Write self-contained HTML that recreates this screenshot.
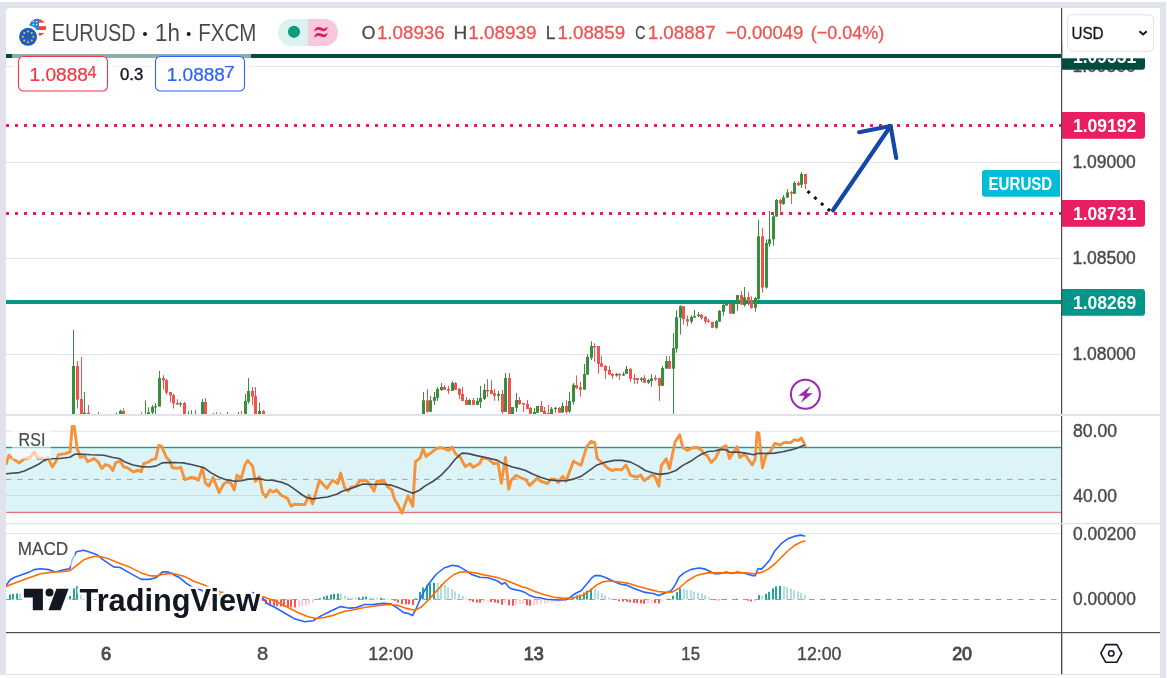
<!DOCTYPE html>
<html><head><meta charset="utf-8"><title>EURUSD chart</title>
<style>
html,body{margin:0;padding:0;background:#fff;}
body{width:1167px;height:678px;overflow:hidden;font-family:"Liberation Sans",sans-serif;}
svg{display:block;font-family:"Liberation Sans",sans-serif;}
</style></head><body>
<svg width="1167" height="678" viewBox="0 0 1167 678">
<defs>
<clipPath id="mainclip"><rect x="6" y="8" width="1055" height="406"/></clipPath>
<clipPath id="rsiclip"><rect x="6" y="417" width="1055" height="106"/></clipPath>
<clipPath id="macdclip"><rect x="6" y="524" width="1055" height="108"/></clipPath>
<filter id="gs" filterUnits="userSpaceOnUse" x="0" y="0" width="1167" height="678" color-interpolation-filters="sRGB"><feOffset dx="0" dy="0"/></filter>
<clipPath id="usclip"><circle cx="37.5" cy="27.5" r="8.65"/></clipPath>
</defs>
<g filter="url(#gs)">

<rect x="0" y="0" width="1167" height="678" fill="#fdfdfd"/>
<rect x="0" y="2" width="1166" height="673" fill="#e0e3eb"/>
<path d="M10,8 H1156 a4,4 0 0 1 4,4 V674 H6 V12 a4,4 0 0 1 4,-4 Z" fill="#ffffff"/>
<rect x="0" y="675" width="1160" height="3" fill="#fdfdfd"/>
<rect x="6" y="674" width="1154" height="1" fill="#e0e3eb"/>
<rect x="6" y="66" width="1055" height="1" fill="#e4e4e4"/>
<rect x="6" y="162" width="1055" height="1" fill="#e4e4e4"/>
<rect x="6" y="258" width="1055" height="1" fill="#e4e4e4"/>
<rect x="6" y="354" width="1055" height="1" fill="#e4e4e4"/>
<rect x="6" y="54" width="1055" height="4" fill="#004d40"/>
<rect x="6" y="300" width="1055" height="4" fill="#009688"/>
<line x1="6" y1="125.5" x2="1061" y2="125.5" stroke="#e91e63" stroke-width="3" stroke-dasharray="3 6"/>
<line x1="6" y1="213.5" x2="1061" y2="213.5" stroke="#e91e63" stroke-width="3" stroke-dasharray="3 6"/>
<g clip-path="url(#mainclip)">
<rect x="73" y="330.0" width="1" height="84.0" fill="#388e3c"/>
<rect x="72" y="366.0" width="3" height="48.0" fill="#388e3c"/>
<rect x="77" y="361.0" width="1" height="47.5" fill="#ef5350"/>
<rect x="76" y="366.0" width="3" height="33.6" fill="#ef5350"/>
<rect x="81" y="357.0" width="1" height="57.0" fill="#ef5350"/>
<rect x="80" y="399.0" width="3" height="15.0" fill="#ef5350"/>
<rect x="84" y="392.0" width="1" height="22.0" fill="#388e3c"/>
<rect x="83" y="412.6" width="3" height="1.4" fill="#388e3c"/>
<rect x="88" y="405.0" width="1" height="9.0" fill="#ef5350"/>
<rect x="87" y="412.6" width="3" height="1.4" fill="#ef5350"/>
<rect x="98" y="412.0" width="1" height="2.0" fill="#ef5350"/>
<rect x="116" y="412.5" width="1" height="1.5" fill="#388e3c"/>
<rect x="120" y="409.7" width="1" height="4.3" fill="#388e3c"/>
<rect x="119" y="410.7" width="3" height="3.3" fill="#388e3c"/>
<rect x="123" y="408.2" width="1" height="5.8" fill="#ef5350"/>
<rect x="122" y="411.0" width="3" height="3.0" fill="#ef5350"/>
<rect x="141" y="412.2" width="1" height="1.8" fill="#ef5350"/>
<rect x="145" y="400.3" width="1" height="13.7" fill="#388e3c"/>
<rect x="148" y="407.3" width="1" height="6.7" fill="#388e3c"/>
<rect x="147" y="412.2" width="3" height="1.8" fill="#388e3c"/>
<rect x="152" y="405.0" width="1" height="9.0" fill="#388e3c"/>
<rect x="151" y="407.0" width="3" height="5.6" fill="#388e3c"/>
<rect x="155" y="403.0" width="1" height="11.0" fill="#388e3c"/>
<rect x="154" y="406.2" width="3" height="1.2" fill="#388e3c"/>
<rect x="159" y="371.0" width="1" height="35.5" fill="#388e3c"/>
<rect x="158" y="378.1" width="3" height="28.4" fill="#388e3c"/>
<rect x="163" y="375.0" width="1" height="14.6" fill="#ef5350"/>
<rect x="162" y="378.0" width="3" height="2.5" fill="#ef5350"/>
<rect x="166" y="379.0" width="1" height="15.5" fill="#ef5350"/>
<rect x="165" y="380.2" width="3" height="12.5" fill="#ef5350"/>
<rect x="170" y="392.0" width="1" height="10.5" fill="#ef5350"/>
<rect x="169" y="392.0" width="3" height="3.4" fill="#ef5350"/>
<rect x="173" y="394.0" width="1" height="14.5" fill="#ef5350"/>
<rect x="172" y="395.2" width="3" height="8.3" fill="#ef5350"/>
<rect x="177" y="399.2" width="1" height="5.5" fill="#ef5350"/>
<rect x="176" y="403.0" width="3" height="1.5" fill="#ef5350"/>
<rect x="180" y="402.0" width="1" height="4.7" fill="#388e3c"/>
<rect x="179" y="403.4" width="3" height="1.2" fill="#388e3c"/>
<rect x="184" y="402.0" width="1" height="12.0" fill="#ef5350"/>
<rect x="183" y="403.0" width="3" height="11.0" fill="#ef5350"/>
<rect x="188" y="411.2" width="1" height="2.8" fill="#388e3c"/>
<rect x="191" y="410.3" width="1" height="3.7" fill="#388e3c"/>
<rect x="195" y="410.3" width="1" height="3.7" fill="#388e3c"/>
<rect x="202" y="399.0" width="1" height="15.0" fill="#388e3c"/>
<rect x="201" y="402.0" width="3" height="12.0" fill="#388e3c"/>
<rect x="205" y="398.0" width="1" height="16.0" fill="#ef5350"/>
<rect x="204" y="402.0" width="3" height="12.0" fill="#ef5350"/>
<rect x="213" y="413.0" width="1" height="1.0" fill="#388e3c"/>
<rect x="216" y="412.0" width="1" height="2.0" fill="#ef5350"/>
<rect x="220" y="413.0" width="1" height="1.0" fill="#ef5350"/>
<rect x="227" y="412.0" width="1" height="2.0" fill="#388e3c"/>
<rect x="238" y="412.0" width="1" height="2.0" fill="#388e3c"/>
<rect x="241" y="411.0" width="1" height="3.0" fill="#ef5350"/>
<rect x="245" y="394.0" width="1" height="20.0" fill="#388e3c"/>
<rect x="244" y="401.0" width="3" height="13.0" fill="#388e3c"/>
<rect x="248" y="378.0" width="1" height="25.8" fill="#388e3c"/>
<rect x="247" y="391.0" width="3" height="10.6" fill="#388e3c"/>
<rect x="252" y="387.0" width="1" height="18.6" fill="#ef5350"/>
<rect x="251" y="391.0" width="3" height="5.7" fill="#ef5350"/>
<rect x="255" y="387.0" width="1" height="27.0" fill="#ef5350"/>
<rect x="254" y="396.0" width="3" height="18.0" fill="#ef5350"/>
<rect x="259" y="403.0" width="1" height="11.0" fill="#388e3c"/>
<rect x="258" y="411.0" width="3" height="3.0" fill="#388e3c"/>
<rect x="263" y="410.0" width="1" height="4.0" fill="#ef5350"/>
<rect x="262" y="411.0" width="3" height="3.0" fill="#ef5350"/>
<rect x="423" y="392.0" width="1" height="22.0" fill="#388e3c"/>
<rect x="422" y="400.3" width="3" height="13.7" fill="#388e3c"/>
<rect x="427" y="389.0" width="1" height="23.8" fill="#ef5350"/>
<rect x="426" y="400.3" width="3" height="11.5" fill="#ef5350"/>
<rect x="430" y="396.0" width="1" height="15.8" fill="#388e3c"/>
<rect x="429" y="400.3" width="3" height="11.5" fill="#388e3c"/>
<rect x="434" y="392.0" width="1" height="12.9" fill="#388e3c"/>
<rect x="433" y="397.2" width="3" height="3.7" fill="#388e3c"/>
<rect x="437" y="387.0" width="1" height="13.9" fill="#388e3c"/>
<rect x="436" y="389.0" width="3" height="8.9" fill="#388e3c"/>
<rect x="441" y="383.0" width="1" height="8.0" fill="#388e3c"/>
<rect x="440" y="387.0" width="3" height="3.0" fill="#388e3c"/>
<rect x="444" y="385.0" width="1" height="4.8" fill="#ef5350"/>
<rect x="443" y="387.0" width="3" height="2.8" fill="#ef5350"/>
<rect x="448" y="386.0" width="1" height="7.9" fill="#ef5350"/>
<rect x="447" y="389.0" width="3" height="1.8" fill="#ef5350"/>
<rect x="452" y="381.0" width="1" height="9.8" fill="#388e3c"/>
<rect x="451" y="383.0" width="3" height="7.8" fill="#388e3c"/>
<rect x="455" y="382.0" width="1" height="7.8" fill="#ef5350"/>
<rect x="454" y="383.0" width="3" height="6.8" fill="#ef5350"/>
<rect x="459" y="387.9" width="1" height="11.0" fill="#ef5350"/>
<rect x="458" y="388.8" width="3" height="6.0" fill="#ef5350"/>
<rect x="462" y="387.0" width="1" height="13.9" fill="#ef5350"/>
<rect x="461" y="394.0" width="3" height="6.9" fill="#ef5350"/>
<rect x="466" y="397.0" width="1" height="7.9" fill="#ef5350"/>
<rect x="465" y="400.0" width="3" height="4.9" fill="#ef5350"/>
<rect x="469" y="399.0" width="1" height="5.9" fill="#388e3c"/>
<rect x="468" y="400.0" width="3" height="4.9" fill="#388e3c"/>
<rect x="473" y="397.9" width="1" height="7.0" fill="#ef5350"/>
<rect x="472" y="400.0" width="3" height="4.9" fill="#ef5350"/>
<rect x="477" y="397.9" width="1" height="7.0" fill="#388e3c"/>
<rect x="476" y="400.9" width="3" height="4.0" fill="#388e3c"/>
<rect x="480" y="386.0" width="1" height="22.0" fill="#388e3c"/>
<rect x="479" y="398.0" width="3" height="4.0" fill="#388e3c"/>
<rect x="484" y="383.9" width="1" height="16.1" fill="#388e3c"/>
<rect x="483" y="390.0" width="3" height="9.0" fill="#388e3c"/>
<rect x="487" y="379.0" width="1" height="18.0" fill="#ef5350"/>
<rect x="486" y="390.0" width="3" height="1.5" fill="#ef5350"/>
<rect x="491" y="380.0" width="1" height="13.9" fill="#ef5350"/>
<rect x="490" y="390.0" width="3" height="3.9" fill="#ef5350"/>
<rect x="494" y="389.0" width="1" height="11.9" fill="#ef5350"/>
<rect x="493" y="393.2" width="3" height="2.6" fill="#ef5350"/>
<rect x="498" y="391.0" width="1" height="9.9" fill="#388e3c"/>
<rect x="497" y="393.9" width="3" height="1.9" fill="#388e3c"/>
<rect x="502" y="390.0" width="1" height="23.8" fill="#ef5350"/>
<rect x="501" y="394.0" width="3" height="18.0" fill="#ef5350"/>
<rect x="505" y="373.0" width="1" height="39.0" fill="#388e3c"/>
<rect x="504" y="378.0" width="3" height="34.0" fill="#388e3c"/>
<rect x="509" y="373.0" width="1" height="41.0" fill="#ef5350"/>
<rect x="508" y="378.0" width="3" height="36.0" fill="#ef5350"/>
<rect x="512" y="407.0" width="1" height="7.0" fill="#388e3c"/>
<rect x="511" y="407.0" width="3" height="7.0" fill="#388e3c"/>
<rect x="516" y="393.0" width="1" height="19.0" fill="#388e3c"/>
<rect x="515" y="400.0" width="3" height="7.8" fill="#388e3c"/>
<rect x="519" y="397.0" width="1" height="7.9" fill="#ef5350"/>
<rect x="518" y="400.0" width="3" height="4.0" fill="#ef5350"/>
<rect x="523" y="403.0" width="1" height="9.0" fill="#ef5350"/>
<rect x="522" y="403.0" width="3" height="1.5" fill="#ef5350"/>
<rect x="527" y="400.0" width="1" height="8.8" fill="#ef5350"/>
<rect x="526" y="404.0" width="3" height="4.8" fill="#ef5350"/>
<rect x="530" y="407.0" width="1" height="7.0" fill="#ef5350"/>
<rect x="529" y="408.0" width="3" height="6.0" fill="#ef5350"/>
<rect x="534" y="408.0" width="1" height="6.0" fill="#388e3c"/>
<rect x="533" y="412.0" width="3" height="2.0" fill="#388e3c"/>
<rect x="537" y="406.0" width="1" height="6.8" fill="#388e3c"/>
<rect x="536" y="406.0" width="3" height="6.8" fill="#388e3c"/>
<rect x="541" y="400.9" width="1" height="11.1" fill="#ef5350"/>
<rect x="540" y="406.0" width="3" height="6.0" fill="#ef5350"/>
<rect x="544" y="407.0" width="1" height="7.0" fill="#ef5350"/>
<rect x="543" y="410.9" width="3" height="3.1" fill="#ef5350"/>
<rect x="548" y="404.9" width="1" height="9.1" fill="#ef5350"/>
<rect x="547" y="413.0" width="3" height="1.0" fill="#ef5350"/>
<rect x="551" y="407.0" width="1" height="7.0" fill="#388e3c"/>
<rect x="550" y="408.8" width="3" height="5.2" fill="#388e3c"/>
<rect x="555" y="407.0" width="1" height="5.8" fill="#388e3c"/>
<rect x="554" y="407.8" width="3" height="1.2" fill="#388e3c"/>
<rect x="559" y="407.0" width="1" height="5.8" fill="#ef5350"/>
<rect x="558" y="408.0" width="3" height="4.8" fill="#ef5350"/>
<rect x="562" y="402.3" width="1" height="10.3" fill="#388e3c"/>
<rect x="561" y="406.0" width="3" height="6.6" fill="#388e3c"/>
<rect x="566" y="400.4" width="1" height="13.2" fill="#ef5350"/>
<rect x="565" y="406.0" width="3" height="6.0" fill="#ef5350"/>
<rect x="569" y="392.0" width="1" height="21.0" fill="#388e3c"/>
<rect x="568" y="401.0" width="3" height="10.6" fill="#388e3c"/>
<rect x="573" y="383.0" width="1" height="21.7" fill="#388e3c"/>
<rect x="572" y="384.8" width="3" height="16.9" fill="#388e3c"/>
<rect x="576" y="375.4" width="1" height="13.6" fill="#ef5350"/>
<rect x="575" y="385.0" width="3" height="3.0" fill="#ef5350"/>
<rect x="580" y="382.0" width="1" height="14.8" fill="#ef5350"/>
<rect x="579" y="387.0" width="3" height="2.7" fill="#ef5350"/>
<rect x="584" y="364.0" width="1" height="25.7" fill="#388e3c"/>
<rect x="583" y="374.0" width="3" height="15.7" fill="#388e3c"/>
<rect x="587" y="354.3" width="1" height="20.4" fill="#388e3c"/>
<rect x="586" y="357.0" width="3" height="17.7" fill="#388e3c"/>
<rect x="591" y="341.3" width="1" height="18.6" fill="#388e3c"/>
<rect x="590" y="346.0" width="3" height="11.9" fill="#388e3c"/>
<rect x="594" y="343.3" width="1" height="18.6" fill="#ef5350"/>
<rect x="593" y="346.0" width="3" height="1.5" fill="#ef5350"/>
<rect x="598" y="346.0" width="1" height="27.8" fill="#ef5350"/>
<rect x="597" y="346.0" width="3" height="17.9" fill="#ef5350"/>
<rect x="601" y="356.2" width="1" height="10.6" fill="#ef5350"/>
<rect x="600" y="363.2" width="3" height="3.6" fill="#ef5350"/>
<rect x="605" y="365.2" width="1" height="13.7" fill="#ef5350"/>
<rect x="604" y="365.8" width="3" height="5.1" fill="#ef5350"/>
<rect x="609" y="366.0" width="1" height="8.7" fill="#ef5350"/>
<rect x="608" y="370.0" width="3" height="4.7" fill="#ef5350"/>
<rect x="612" y="373.0" width="1" height="5.9" fill="#ef5350"/>
<rect x="611" y="374.0" width="3" height="1.8" fill="#ef5350"/>
<rect x="616" y="373.0" width="1" height="3.7" fill="#388e3c"/>
<rect x="615" y="374.0" width="3" height="1.5" fill="#388e3c"/>
<rect x="619" y="373.0" width="1" height="6.8" fill="#ef5350"/>
<rect x="618" y="374.0" width="3" height="1.5" fill="#ef5350"/>
<rect x="623" y="372.0" width="1" height="4.0" fill="#388e3c"/>
<rect x="622" y="374.0" width="3" height="1.5" fill="#388e3c"/>
<rect x="626" y="366.0" width="1" height="7.8" fill="#388e3c"/>
<rect x="625" y="369.0" width="3" height="4.8" fill="#388e3c"/>
<rect x="630" y="368.0" width="1" height="13.8" fill="#ef5350"/>
<rect x="629" y="368.8" width="3" height="10.1" fill="#ef5350"/>
<rect x="634" y="374.0" width="1" height="9.8" fill="#ef5350"/>
<rect x="633" y="378.0" width="3" height="1.5" fill="#ef5350"/>
<rect x="637" y="378.0" width="1" height="5.8" fill="#ef5350"/>
<rect x="636" y="378.0" width="3" height="2.0" fill="#ef5350"/>
<rect x="641" y="377.0" width="1" height="4.8" fill="#388e3c"/>
<rect x="640" y="378.5" width="3" height="1.5" fill="#388e3c"/>
<rect x="644" y="375.0" width="1" height="7.8" fill="#ef5350"/>
<rect x="643" y="378.0" width="3" height="4.8" fill="#ef5350"/>
<rect x="648" y="378.9" width="1" height="4.9" fill="#388e3c"/>
<rect x="647" y="380.0" width="3" height="2.8" fill="#388e3c"/>
<rect x="651" y="374.3" width="1" height="12.4" fill="#388e3c"/>
<rect x="650" y="378.4" width="3" height="2.6" fill="#388e3c"/>
<rect x="655" y="375.2" width="1" height="5.8" fill="#ef5350"/>
<rect x="654" y="377.9" width="3" height="1.6" fill="#ef5350"/>
<rect x="659" y="377.9" width="1" height="23.0" fill="#ef5350"/>
<rect x="658" y="377.9" width="3" height="7.9" fill="#ef5350"/>
<rect x="662" y="365.8" width="1" height="20.0" fill="#388e3c"/>
<rect x="661" y="368.1" width="3" height="17.7" fill="#388e3c"/>
<rect x="666" y="356.1" width="1" height="12.6" fill="#388e3c"/>
<rect x="665" y="361.0" width="3" height="7.7" fill="#388e3c"/>
<rect x="669" y="356.1" width="1" height="12.6" fill="#ef5350"/>
<rect x="668" y="361.0" width="3" height="7.7" fill="#ef5350"/>
<rect x="673" y="333.1" width="1" height="80.7" fill="#388e3c"/>
<rect x="672" y="348.1" width="3" height="20.6" fill="#388e3c"/>
<rect x="676" y="310.3" width="1" height="42.4" fill="#388e3c"/>
<rect x="675" y="317.2" width="3" height="31.5" fill="#388e3c"/>
<rect x="680" y="305.3" width="1" height="29.2" fill="#388e3c"/>
<rect x="679" y="306.2" width="3" height="11.5" fill="#388e3c"/>
<rect x="683" y="306.2" width="1" height="18.2" fill="#ef5350"/>
<rect x="682" y="306.2" width="3" height="12.9" fill="#ef5350"/>
<rect x="687" y="315.4" width="1" height="11.1" fill="#ef5350"/>
<rect x="686" y="319.1" width="3" height="2.5" fill="#ef5350"/>
<rect x="691" y="315.4" width="1" height="8.3" fill="#388e3c"/>
<rect x="690" y="317.0" width="3" height="4.6" fill="#388e3c"/>
<rect x="694" y="310.0" width="1" height="7.7" fill="#388e3c"/>
<rect x="693" y="316.2" width="3" height="1.5" fill="#388e3c"/>
<rect x="698" y="312.1" width="1" height="4.9" fill="#388e3c"/>
<rect x="697" y="314.7" width="3" height="1.5" fill="#388e3c"/>
<rect x="701" y="313.9" width="1" height="5.8" fill="#ef5350"/>
<rect x="700" y="314.7" width="3" height="3.3" fill="#ef5350"/>
<rect x="705" y="315.9" width="1" height="7.8" fill="#ef5350"/>
<rect x="704" y="317.0" width="3" height="4.6" fill="#ef5350"/>
<rect x="708" y="319.0" width="1" height="3.6" fill="#ef5350"/>
<rect x="707" y="320.6" width="3" height="1.4" fill="#ef5350"/>
<rect x="712" y="321.9" width="1" height="5.9" fill="#ef5350"/>
<rect x="711" y="321.9" width="3" height="5.9" fill="#ef5350"/>
<rect x="716" y="320.0" width="1" height="8.8" fill="#388e3c"/>
<rect x="715" y="321.1" width="3" height="6.7" fill="#388e3c"/>
<rect x="719" y="310.0" width="1" height="11.6" fill="#388e3c"/>
<rect x="718" y="310.8" width="3" height="10.8" fill="#388e3c"/>
<rect x="723" y="302.0" width="1" height="13.7" fill="#388e3c"/>
<rect x="722" y="305.1" width="3" height="6.7" fill="#388e3c"/>
<rect x="726" y="300.2" width="1" height="5.4" fill="#388e3c"/>
<rect x="725" y="304.0" width="3" height="1.6" fill="#388e3c"/>
<rect x="730" y="304.0" width="1" height="9.7" fill="#ef5350"/>
<rect x="729" y="304.0" width="3" height="9.7" fill="#ef5350"/>
<rect x="733" y="300.4" width="1" height="13.3" fill="#388e3c"/>
<rect x="732" y="302.0" width="3" height="11.7" fill="#388e3c"/>
<rect x="737" y="295.1" width="1" height="15.7" fill="#388e3c"/>
<rect x="736" y="295.1" width="3" height="7.9" fill="#388e3c"/>
<rect x="741" y="291.2" width="1" height="13.4" fill="#ef5350"/>
<rect x="740" y="295.1" width="3" height="9.5" fill="#ef5350"/>
<rect x="744" y="287.0" width="1" height="19.6" fill="#388e3c"/>
<rect x="743" y="297.3" width="3" height="7.8" fill="#388e3c"/>
<rect x="748" y="292.2" width="1" height="13.4" fill="#ef5350"/>
<rect x="747" y="297.0" width="3" height="4.0" fill="#ef5350"/>
<rect x="751" y="296.3" width="1" height="12.4" fill="#ef5350"/>
<rect x="750" y="300.2" width="3" height="7.8" fill="#ef5350"/>
<rect x="755" y="297.0" width="1" height="14.8" fill="#388e3c"/>
<rect x="754" y="298.1" width="3" height="9.6" fill="#388e3c"/>
<rect x="758" y="220.0" width="1" height="82.5" fill="#388e3c"/>
<rect x="757" y="236.3" width="3" height="62.6" fill="#388e3c"/>
<rect x="762" y="228.0" width="1" height="64.9" fill="#ef5350"/>
<rect x="761" y="236.3" width="3" height="51.3" fill="#ef5350"/>
<rect x="766" y="239.3" width="1" height="49.4" fill="#388e3c"/>
<rect x="765" y="243.0" width="3" height="44.6" fill="#388e3c"/>
<rect x="769" y="211.0" width="1" height="35.9" fill="#388e3c"/>
<rect x="768" y="239.3" width="3" height="4.6" fill="#388e3c"/>
<rect x="773" y="212.3" width="1" height="33.4" fill="#388e3c"/>
<rect x="772" y="216.3" width="3" height="23.0" fill="#388e3c"/>
<rect x="776" y="199.0" width="1" height="17.6" fill="#388e3c"/>
<rect x="775" y="200.0" width="3" height="16.6" fill="#388e3c"/>
<rect x="780" y="199.0" width="1" height="14.2" fill="#ef5350"/>
<rect x="779" y="200.0" width="3" height="3.7" fill="#ef5350"/>
<rect x="783" y="195.1" width="1" height="9.8" fill="#388e3c"/>
<rect x="782" y="197.2" width="3" height="6.7" fill="#388e3c"/>
<rect x="787" y="189.1" width="1" height="8.6" fill="#388e3c"/>
<rect x="786" y="192.3" width="3" height="5.4" fill="#388e3c"/>
<rect x="791" y="191.0" width="1" height="12.9" fill="#ef5350"/>
<rect x="790" y="192.0" width="3" height="1.5" fill="#ef5350"/>
<rect x="794" y="181.2" width="1" height="12.6" fill="#388e3c"/>
<rect x="793" y="182.9" width="3" height="10.9" fill="#388e3c"/>
<rect x="798" y="181.0" width="1" height="5.0" fill="#ef5350"/>
<rect x="797" y="182.9" width="3" height="2.4" fill="#ef5350"/>
<rect x="801" y="172.1" width="1" height="15.8" fill="#388e3c"/>
<rect x="800" y="173.9" width="3" height="10.9" fill="#388e3c"/>
<rect x="805" y="173.9" width="1" height="15.0" fill="#ef5350"/>
<rect x="804" y="173.9" width="3" height="10.0" fill="#ef5350"/>
</g>
<line x1="807.5" y1="191.2" x2="831" y2="211.8" stroke="#111" stroke-width="3" stroke-dasharray="3 6"/>
<g fill="none" stroke="#1546a8" stroke-width="4.2" stroke-linecap="round" stroke-linejoin="round">
<path d="M833,210.3 L890.6,126"/>
<path d="M859.1,132.2 L890.6,126 L896.2,158"/>
</g>
<path d="M985,170 H1060 V196.8 H985 a3,3 0 0 1 -3,-3 V173 a3,3 0 0 1 3,-3 Z" fill="#00bcd4"/>
<text x="988.53" y="190.0" font-size="17.5" fill="#ffffff" font-weight="bold" textLength="63.73" lengthAdjust="spacingAndGlyphs" >EURUSD</text>
<circle cx="805.4" cy="394.3" r="14.5" fill="#fff" stroke="#9c27b0" stroke-width="2"/>
<path d="M810.6,386 L798.2,395.8 L804.6,395.8 L800.8,402.8 L812.8,393.2 L806.4,393.2 Z" fill="#9c27b0"/>
<rect x="6" y="414" width="1154" height="2" fill="#e0e3eb"/>
<rect x="6" y="523" width="1154" height="1.2" fill="#e0e3eb"/>
<rect x="6" y="448" width="1055" height="64" fill="#dcf3f8"/>
<rect x="6" y="430.7" width="1055" height="1" fill="#e3e3e3"/>
<rect x="6" y="495" width="1055" height="1" fill="#c9dde1"/>
<rect x="6" y="446.8" width="1055" height="1.4" fill="#12a08e"/>
<rect x="6" y="511.8" width="1055" height="1.3" fill="#e57373"/>
<line x1="6" y1="479.4" x2="1061" y2="479.4" stroke="#9aa7ab" stroke-width="1" stroke-dasharray="5.5 5.5"/>
<g clip-path="url(#rsiclip)" fill="none" stroke-linejoin="round" stroke-linecap="round">
<polyline points="6.2,463.7 8.9,455.3 13.0,458.8 19.2,462.9 24.3,458.8 30.0,457.5 34.4,452.0 37.7,458.5 42.5,458.0 45.4,460.4 47.9,457.5 52.3,467.0 56.0,461.3 58.4,454.8 64.9,453.6 70.1,452.0 72.2,426.4 74.3,426.4 77.1,448.3 80.3,457.5 84.4,455.6 87.6,461.7 94.1,458.5 98.2,462.0 101.9,468.6 105.5,464.5 109.6,466.0 112.8,470.5 115.6,462.9 120.1,460.8 123.4,466.6 128.2,468.2 133.4,472.1 138.0,470.2 141.2,471.8 143.6,463.7 148.5,462.0 151.8,459.6 155.8,458.8 158.7,445.5 161.5,446.2 166.4,457.5 169.6,460.4 172.4,467.8 177.7,468.2 180.7,467.3 184.7,479.6 191.2,477.5 195.3,478.0 198.5,480.2 202.3,467.8 205.5,483.2 208.8,486.1 213.1,477.5 219.2,492.6 223.7,484.0 226.9,481.9 231.0,483.2 234.2,490.0 237.0,475.1 241.2,478.3 244.8,465.3 247.6,460.4 252.6,466.1 255.3,481.2 259.4,476.7 262.6,492.9 265.9,497.0 270.0,490.0 273.2,492.1 276.4,490.0 281.3,495.3 287.8,498.6 291.0,506.2 294.3,504.3 304.8,504.6 308.9,495.3 312.6,503.9 319.5,480.2 326.8,488.4 332.4,480.2 337.8,483.5 340.6,473.1 344.6,487.7 348.3,491.0 351.1,487.2 355.7,486.4 359.7,480.7 366.2,480.2 370.3,485.1 374.0,491.0 376.8,481.2 384.1,481.2 387.3,486.4 391.9,490.0 394.6,499.4 397.9,504.6 401.9,513.2 408.1,495.8 412.8,506.2 415.4,461.7 420.1,458.0 423.0,449.1 426.0,456.4 431.2,452.7 436.8,448.3 440.9,447.5 448.7,450.4 451.9,447.1 455.5,453.6 460.4,457.5 465.2,466.6 470.1,463.7 472.9,467.3 479.8,463.4 482.3,458.0 488.0,458.8 493.6,463.7 498.0,462.9 501.3,483.2 505.5,457.5 508.7,489.3 511.2,480.2 515.9,475.4 520.4,477.5 526.1,479.9 529.5,485.6 537.2,478.3 541.2,481.5 547.7,483.5 551.0,479.1 555.0,479.1 558.3,482.4 562.7,476.4 565.9,481.2 573.4,461.3 581.0,465.3 586.7,446.7 591.2,441.3 594.8,442.6 597.2,458.5 602.9,463.4 607.8,468.2 611.8,470.5 615.9,469.4 621.6,469.7 626.0,465.0 630.5,475.4 637.0,477.0 640.7,475.1 644.3,480.7 651.9,475.1 654.8,476.4 658.9,486.1 661.3,465.6 666.2,458.8 669.5,468.6 675.1,441.8 679.7,434.8 682.8,447.5 687.3,450.4 692.2,447.8 697.9,447.5 701.9,450.7 704.1,454.0 707.3,455.6 711.0,462.4 715.4,458.5 720.3,448.3 726.0,445.8 729.5,458.5 737.0,446.7 739.8,457.5 744.6,454.0 752.3,465.0 755.2,458.8 757.1,432.5 758.8,433.2 762.5,467.8 766.2,454.0 769.8,452.7 774.7,443.4 780.3,445.0 784.4,442.3 790.9,442.6 794.1,439.7 798.2,440.6 801.4,438.0 805.2,445.5" stroke="#f5923a" stroke-width="2.9"/>
<polyline points="6.2,473.8 19.2,472.6 24.3,471.0 32.5,467.3 39.0,464.0 44.6,460.1 48.7,458.8 60.0,458.5 69.8,457.2 74.7,454.3 79.5,454.0 90.9,454.8 103.9,455.3 112.0,457.2 120.1,458.8 125.0,462.1 133.1,465.0 141.2,466.6 149.3,467.0 155.8,466.1 162.3,462.9 170.4,462.4 180.0,462.7 183.1,462.9 191.2,464.5 199.3,466.6 204.2,467.8 210.7,472.6 219.6,477.5 226.9,479.9 235.1,481.2 241.5,480.7 248.0,479.1 259.4,478.6 265.9,480.2 272.4,480.2 282.1,482.4 288.6,485.1 295.1,489.7 301.6,494.5 306.5,497.5 313.0,498.9 321.1,497.8 327.6,497.0 337.3,494.0 342.2,491.3 348.7,489.3 356.5,486.4 363.0,484.0 374.3,484.5 382.5,484.0 390.6,485.1 398.7,487.7 406.8,491.0 413.0,493.2 419.8,490.0 424.7,486.1 432.8,481.5 440.9,475.4 449.0,467.0 455.5,458.8 462.0,453.1 468.5,453.6 476.6,455.6 488.0,458.0 497.7,460.4 502.6,463.4 512.3,467.0 520.4,468.9 525.0,470.2 533.1,474.2 541.2,477.5 549.3,479.9 557.5,480.7 565.6,480.7 573.7,479.1 581.8,475.9 589.9,470.2 596.4,465.3 604.5,462.4 614.3,460.4 622.4,460.4 630.5,462.1 638.6,466.1 645.1,470.5 653.2,473.1 659.7,474.4 667.8,473.4 675.9,470.5 682.4,465.6 690.6,461.3 697.0,456.9 701.9,454.0 708.1,451.5 714.6,451.0 721.1,449.4 726.0,449.9 730.0,452.3 737.3,452.0 745.4,453.1 753.6,454.8 758.4,453.3 766.5,453.5 774.7,453.1 782.8,451.7 790.9,449.9 797.4,448.0 803.9,445.2" stroke="#454a58" stroke-width="1.6"/>
</g>
<rect x="12" y="428" width="39" height="31" fill="#ffffff" opacity="0.55"/>
<text x="18.60" y="446.2" font-size="18.5" fill="#4a4a4a" font-weight="normal" textLength="26.78" lengthAdjust="spacingAndGlyphs"  stroke="#4a4a4a" stroke-width="0.2">RSI</text>
<rect x="6" y="533" width="1055" height="1" fill="#e3e3e3"/>
<line x1="6" y1="599.5" x2="1061" y2="599.5" stroke="#9e9e9e" stroke-width="1" stroke-dasharray="5.5 5.5"/>
<g clip-path="url(#macdclip)">
<rect x="9" y="594.6" width="2" height="4.9" fill="#26a69a"/>
<rect x="12" y="593.9" width="2" height="5.6" fill="#26a69a"/>
<rect x="16" y="593.6" width="2" height="5.9" fill="#26a69a"/>
<rect x="19" y="593.7" width="2" height="5.8" fill="#b2dfdb"/>
<rect x="23" y="593.7" width="2" height="5.8" fill="#b2dfdb"/>
<rect x="27" y="593.8" width="2" height="5.7" fill="#b2dfdb"/>
<rect x="30" y="593.5" width="2" height="6.0" fill="#26a69a"/>
<rect x="34" y="593.2" width="2" height="6.3" fill="#26a69a"/>
<rect x="37" y="594.0" width="2" height="5.5" fill="#b2dfdb"/>
<rect x="41" y="594.9" width="2" height="4.6" fill="#b2dfdb"/>
<rect x="44" y="595.7" width="2" height="3.8" fill="#b2dfdb"/>
<rect x="48" y="596.7" width="2" height="2.8" fill="#b2dfdb"/>
<rect x="51" y="598.5" width="2" height="1.0" fill="#b2dfdb"/>
<rect x="59" y="598.8" width="2" height="0.7" fill="#26a69a"/>
<rect x="62" y="598.1" width="2" height="1.4" fill="#26a69a"/>
<rect x="66" y="597.7" width="2" height="1.8" fill="#26a69a"/>
<rect x="69" y="596.0" width="2" height="3.5" fill="#26a69a"/>
<rect x="73" y="588.5" width="2" height="11.0" fill="#26a69a"/>
<rect x="76" y="586.3" width="2" height="13.2" fill="#26a69a"/>
<rect x="80" y="588.3" width="2" height="11.2" fill="#b2dfdb"/>
<rect x="208" y="599.5" width="2" height="5.9" fill="#ffcdd2"/>
<rect x="262" y="599.5" width="2" height="1.6" fill="#ff5252"/>
<rect x="265" y="599.5" width="2" height="4.6" fill="#ff5252"/>
<rect x="269" y="599.5" width="2" height="5.8" fill="#ff5252"/>
<rect x="273" y="599.5" width="2" height="6.2" fill="#ff5252"/>
<rect x="276" y="599.5" width="2" height="6.6" fill="#ff5252"/>
<rect x="280" y="599.5" width="2" height="6.9" fill="#ff5252"/>
<rect x="283" y="599.5" width="2" height="7.2" fill="#ff5252"/>
<rect x="287" y="599.5" width="2" height="7.5" fill="#ff5252"/>
<rect x="290" y="599.5" width="2" height="7.8" fill="#ff5252"/>
<rect x="294" y="599.5" width="2" height="8.0" fill="#ff5252"/>
<rect x="298" y="599.5" width="2" height="7.3" fill="#ffcdd2"/>
<rect x="301" y="599.5" width="2" height="6.7" fill="#ffcdd2"/>
<rect x="305" y="599.5" width="2" height="5.9" fill="#ffcdd2"/>
<rect x="308" y="599.5" width="2" height="4.3" fill="#ffcdd2"/>
<rect x="312" y="599.5" width="2" height="3.1" fill="#ffcdd2"/>
<rect x="319" y="598.1" width="2" height="1.4" fill="#26a69a"/>
<rect x="323" y="596.6" width="2" height="2.9" fill="#26a69a"/>
<rect x="326" y="595.6" width="2" height="3.9" fill="#26a69a"/>
<rect x="330" y="594.6" width="2" height="4.9" fill="#26a69a"/>
<rect x="333" y="593.9" width="2" height="5.6" fill="#26a69a"/>
<rect x="337" y="593.6" width="2" height="5.9" fill="#26a69a"/>
<rect x="340" y="593.8" width="2" height="5.7" fill="#b2dfdb"/>
<rect x="344" y="595.7" width="2" height="3.8" fill="#b2dfdb"/>
<rect x="347" y="596.8" width="2" height="2.7" fill="#b2dfdb"/>
<rect x="351" y="597.3" width="2" height="2.2" fill="#b2dfdb"/>
<rect x="355" y="597.7" width="2" height="1.8" fill="#b2dfdb"/>
<rect x="358" y="597.4" width="2" height="2.1" fill="#26a69a"/>
<rect x="362" y="596.8" width="2" height="2.7" fill="#26a69a"/>
<rect x="365" y="596.7" width="2" height="2.8" fill="#26a69a"/>
<rect x="369" y="597.3" width="2" height="2.2" fill="#b2dfdb"/>
<rect x="372" y="597.7" width="2" height="1.8" fill="#b2dfdb"/>
<rect x="376" y="597.8" width="2" height="1.7" fill="#b2dfdb"/>
<rect x="380" y="597.8" width="2" height="1.7" fill="#26a69a"/>
<rect x="383" y="598.0" width="2" height="1.5" fill="#b2dfdb"/>
<rect x="387" y="598.5" width="2" height="1.0" fill="#b2dfdb"/>
<rect x="390" y="598.9" width="2" height="0.6" fill="#b2dfdb"/>
<rect x="394" y="599.5" width="2" height="1.3" fill="#ff5252"/>
<rect x="397" y="599.5" width="2" height="3.0" fill="#ff5252"/>
<rect x="401" y="599.5" width="2" height="4.4" fill="#ff5252"/>
<rect x="405" y="599.5" width="2" height="4.8" fill="#ff5252"/>
<rect x="408" y="599.5" width="2" height="4.9" fill="#ff5252"/>
<rect x="412" y="599.5" width="2" height="5.6" fill="#ff5252"/>
<rect x="415" y="598.3" width="2" height="1.2" fill="#26a69a"/>
<rect x="419" y="591.9" width="2" height="7.6" fill="#26a69a"/>
<rect x="422" y="587.5" width="2" height="12.0" fill="#26a69a"/>
<rect x="426" y="584.8" width="2" height="14.7" fill="#26a69a"/>
<rect x="429" y="583.4" width="2" height="16.1" fill="#26a69a"/>
<rect x="433" y="582.7" width="2" height="16.8" fill="#26a69a"/>
<rect x="437" y="582.8" width="2" height="16.7" fill="#b2dfdb"/>
<rect x="440" y="583.8" width="2" height="15.7" fill="#b2dfdb"/>
<rect x="444" y="585.1" width="2" height="14.4" fill="#b2dfdb"/>
<rect x="447" y="587.1" width="2" height="12.4" fill="#b2dfdb"/>
<rect x="451" y="588.8" width="2" height="10.7" fill="#b2dfdb"/>
<rect x="454" y="591.4" width="2" height="8.1" fill="#b2dfdb"/>
<rect x="458" y="593.5" width="2" height="6.0" fill="#b2dfdb"/>
<rect x="462" y="596.1" width="2" height="3.4" fill="#b2dfdb"/>
<rect x="465" y="598.5" width="2" height="1.0" fill="#b2dfdb"/>
<rect x="469" y="599.5" width="2" height="1.0" fill="#ff5252"/>
<rect x="472" y="599.5" width="2" height="2.4" fill="#ff5252"/>
<rect x="476" y="599.5" width="2" height="3.0" fill="#ff5252"/>
<rect x="479" y="599.5" width="2" height="3.3" fill="#ff5252"/>
<rect x="483" y="599.5" width="2" height="2.7" fill="#ffcdd2"/>
<rect x="487" y="599.5" width="2" height="2.2" fill="#ffcdd2"/>
<rect x="490" y="599.5" width="2" height="2.5" fill="#ff5252"/>
<rect x="494" y="599.5" width="2" height="3.0" fill="#ff5252"/>
<rect x="497" y="599.5" width="2" height="3.5" fill="#ff5252"/>
<rect x="501" y="599.5" width="2" height="5.2" fill="#ff5252"/>
<rect x="504" y="599.5" width="2" height="3.0" fill="#ffcdd2"/>
<rect x="508" y="599.5" width="2" height="5.8" fill="#ff5252"/>
<rect x="512" y="599.5" width="2" height="6.2" fill="#ff5252"/>
<rect x="515" y="599.5" width="2" height="5.5" fill="#ffcdd2"/>
<rect x="519" y="599.5" width="2" height="4.7" fill="#ffcdd2"/>
<rect x="522" y="599.5" width="2" height="4.4" fill="#ffcdd2"/>
<rect x="526" y="599.5" width="2" height="5.6" fill="#ff5252"/>
<rect x="529" y="599.5" width="2" height="6.2" fill="#ff5252"/>
<rect x="533" y="599.5" width="2" height="5.8" fill="#ffcdd2"/>
<rect x="536" y="599.5" width="2" height="5.1" fill="#ffcdd2"/>
<rect x="540" y="599.5" width="2" height="4.4" fill="#ffcdd2"/>
<rect x="544" y="599.5" width="2" height="4.1" fill="#ffcdd2"/>
<rect x="547" y="599.5" width="2" height="3.7" fill="#ffcdd2"/>
<rect x="551" y="599.5" width="2" height="3.1" fill="#ffcdd2"/>
<rect x="554" y="599.5" width="2" height="2.5" fill="#ffcdd2"/>
<rect x="558" y="599.5" width="2" height="2.2" fill="#ffcdd2"/>
<rect x="561" y="599.5" width="2" height="1.6" fill="#ffcdd2"/>
<rect x="565" y="599.5" width="2" height="1.2" fill="#ffcdd2"/>
<rect x="572" y="596.9" width="2" height="2.6" fill="#26a69a"/>
<rect x="576" y="595.4" width="2" height="4.1" fill="#26a69a"/>
<rect x="579" y="594.6" width="2" height="4.9" fill="#26a69a"/>
<rect x="583" y="592.6" width="2" height="6.9" fill="#26a69a"/>
<rect x="586" y="590.6" width="2" height="8.9" fill="#26a69a"/>
<rect x="590" y="588.6" width="2" height="10.9" fill="#26a69a"/>
<rect x="594" y="588.6" width="2" height="10.9" fill="#b2dfdb"/>
<rect x="597" y="590.9" width="2" height="8.6" fill="#b2dfdb"/>
<rect x="601" y="593.3" width="2" height="6.2" fill="#b2dfdb"/>
<rect x="604" y="595.5" width="2" height="4.0" fill="#b2dfdb"/>
<rect x="608" y="597.5" width="2" height="2.0" fill="#b2dfdb"/>
<rect x="611" y="599.0" width="2" height="0.5" fill="#b2dfdb"/>
<rect x="615" y="599.5" width="2" height="0.6" fill="#ff5252"/>
<rect x="618" y="599.5" width="2" height="1.6" fill="#ff5252"/>
<rect x="622" y="599.5" width="2" height="2.1" fill="#ff5252"/>
<rect x="626" y="599.5" width="2" height="2.3" fill="#ff5252"/>
<rect x="629" y="599.5" width="2" height="2.8" fill="#ff5252"/>
<rect x="633" y="599.5" width="2" height="3.4" fill="#ff5252"/>
<rect x="636" y="599.5" width="2" height="3.7" fill="#ff5252"/>
<rect x="640" y="599.5" width="2" height="3.9" fill="#ff5252"/>
<rect x="643" y="599.5" width="2" height="4.2" fill="#ff5252"/>
<rect x="647" y="599.5" width="2" height="3.8" fill="#ffcdd2"/>
<rect x="651" y="599.5" width="2" height="3.4" fill="#ffcdd2"/>
<rect x="654" y="599.5" width="2" height="3.5" fill="#ff5252"/>
<rect x="658" y="599.5" width="2" height="3.9" fill="#ff5252"/>
<rect x="661" y="599.5" width="2" height="2.1" fill="#ffcdd2"/>
<rect x="668" y="598.7" width="2" height="0.8" fill="#26a69a"/>
<rect x="672" y="595.8" width="2" height="3.7" fill="#26a69a"/>
<rect x="676" y="592.1" width="2" height="7.4" fill="#26a69a"/>
<rect x="679" y="588.4" width="2" height="11.1" fill="#26a69a"/>
<rect x="683" y="588.6" width="2" height="10.9" fill="#b2dfdb"/>
<rect x="686" y="589.8" width="2" height="9.7" fill="#b2dfdb"/>
<rect x="690" y="590.2" width="2" height="9.3" fill="#b2dfdb"/>
<rect x="693" y="591.6" width="2" height="7.9" fill="#b2dfdb"/>
<rect x="697" y="592.4" width="2" height="7.1" fill="#b2dfdb"/>
<rect x="701" y="593.6" width="2" height="5.9" fill="#b2dfdb"/>
<rect x="704" y="595.2" width="2" height="4.3" fill="#b2dfdb"/>
<rect x="708" y="597.4" width="2" height="2.1" fill="#b2dfdb"/>
<rect x="715" y="599.5" width="2" height="0.8" fill="#ff5252"/>
<rect x="718" y="599.5" width="2" height="0.8" fill="#ff5252"/>
<rect x="725" y="598.8" width="2" height="0.7" fill="#26a69a"/>
<rect x="736" y="598.7" width="2" height="0.8" fill="#26a69a"/>
<rect x="747" y="599.5" width="2" height="1.1" fill="#ff5252"/>
<rect x="750" y="599.5" width="2" height="2.0" fill="#ff5252"/>
<rect x="754" y="599.5" width="2" height="1.9" fill="#ffcdd2"/>
<rect x="758" y="595.1" width="2" height="4.4" fill="#26a69a"/>
<rect x="761" y="595.7" width="2" height="3.8" fill="#b2dfdb"/>
<rect x="765" y="593.8" width="2" height="5.7" fill="#26a69a"/>
<rect x="768" y="591.8" width="2" height="7.7" fill="#26a69a"/>
<rect x="772" y="588.4" width="2" height="11.1" fill="#26a69a"/>
<rect x="775" y="586.3" width="2" height="13.2" fill="#26a69a"/>
<rect x="779" y="585.9" width="2" height="13.6" fill="#26a69a"/>
<rect x="783" y="586.3" width="2" height="13.2" fill="#b2dfdb"/>
<rect x="786" y="587.1" width="2" height="12.4" fill="#b2dfdb"/>
<rect x="790" y="588.6" width="2" height="10.9" fill="#b2dfdb"/>
<rect x="793" y="590.1" width="2" height="9.4" fill="#b2dfdb"/>
<rect x="797" y="591.4" width="2" height="8.1" fill="#b2dfdb"/>
<rect x="800" y="592.8" width="2" height="6.7" fill="#b2dfdb"/>
<rect x="804" y="594.6" width="2" height="4.9" fill="#b2dfdb"/>
</g>
<g clip-path="url(#macdclip)" fill="none" stroke-linejoin="round" stroke-linecap="round">
<polyline points="6.2,585.4 9.7,580.2 14.6,577.3 21.1,575.0 29.2,572.1 34.1,569.6 40.6,568.8 48.7,569.6 55.2,572.1 64.9,569.6 69.8,568.8 72.2,559.9 76.3,551.8 83.6,550.2 90.9,552.6 97.4,555.0 102.3,559.1 113.6,566.9 120.1,567.5 128.2,572.1 141.2,579.4 149.3,579.4 155.8,577.8 162.3,572.1 167.2,571.7 172.1,573.4 175.0,575.6 179.9,577.8 186.4,583.4 192.9,587.5 196.0,588.9 200.3,589.8 206.0,592.8 215.0,594.0 230.0,595.5 242.0,596.0 247.0,594.5 253.0,592.6 257.0,594.0 263.5,598.9 267.5,603.7 275.6,607.8 285.4,613.5 295.1,619.1 304.8,621.7 313.0,620.8 321.1,615.9 330.8,611.0 340.6,606.6 347.1,607.8 350.0,608.1 356.5,607.5 364.6,604.5 372.7,604.5 382.5,603.4 390.6,603.7 397.1,607.8 403.6,612.6 408.4,613.5 412.5,615.6 416.5,607.8 421.4,596.4 427.9,585.1 436.0,574.5 444.1,568.0 452.3,565.3 458.7,566.4 465.2,570.1 471.7,574.5 479.8,577.3 488.0,577.8 497.7,581.0 501.8,584.2 505.0,582.6 509.1,587.5 512.3,589.1 520.4,590.7 525.0,592.4 529.9,595.6 534.7,597.2 539.6,597.7 546.1,599.3 557.5,600.0 565.6,599.7 570.4,597.2 575.3,593.5 581.0,590.7 586.7,584.2 591.5,578.2 594.8,575.6 599.7,575.6 606.2,577.8 612.7,581.0 620.8,584.2 627.3,585.4 635.4,589.1 645.1,592.4 653.2,593.5 658.4,595.6 664.6,593.2 671.1,590.7 675.1,585.1 679.2,576.9 684.1,572.9 690.6,569.6 697.1,568.2 700.0,568.0 704.9,569.1 709.7,571.3 714.6,573.7 719.5,573.7 726.0,572.1 731.7,573.4 737.3,572.1 743.8,573.0 748.7,574.5 751.9,575.6 755.2,575.6 758.1,568.5 761.4,569.1 764.9,565.6 769.8,559.9 774.7,551.0 781.2,543.7 787.7,538.8 794.1,536.4 800.6,535.1 804.7,536.0" stroke="#2962ff" stroke-width="1.6"/>
<polyline points="6.2,586.4 16.2,582.6 29.2,577.8 40.6,573.7 51.9,572.1 61.7,571.6 69.8,570.8 76.3,565.6 84.4,559.4 92.5,556.7 99.0,556.2 107.1,558.3 116.9,562.3 128.2,566.4 141.2,572.9 149.3,575.6 155.8,576.1 162.3,574.5 170.4,573.4 175.0,574.0 184.7,576.6 194.5,581.5 205.4,585.6 213.0,589.0 220.5,592.1 230.0,593.8 245.0,595.3 263.9,596.9 275.6,601.3 288.6,607.8 298.4,612.7 308.1,616.7 316.2,618.5 324.3,617.5 334.1,615.1 345.4,611.0 350.0,610.5 363.0,607.8 376.0,605.8 389.0,604.5 397.1,605.3 405.2,608.1 414.9,610.2 421.4,607.0 429.5,598.9 437.6,589.9 445.8,581.0 453.9,574.5 460.4,572.1 466.9,571.7 475.0,572.9 484.7,575.0 496.1,577.3 505.8,580.2 515.6,584.2 523.7,587.5 525.0,587.2 534.7,591.5 544.5,594.8 554.2,597.2 564.0,598.4 573.7,597.7 581.8,595.6 589.9,590.7 596.4,585.1 602.9,581.8 609.4,581.0 617.5,581.8 627.3,583.1 638.6,586.4 648.4,589.1 658.1,591.5 666.2,592.4 672.7,591.9 679.2,588.0 687.3,581.0 695.4,576.1 700.0,574.5 708.1,572.9 716.2,572.9 732.5,572.9 745.4,572.9 755.2,573.7 761.7,572.4 768.2,569.1 774.7,564.0 781.2,557.5 787.7,551.0 794.1,545.8 800.6,542.2 804.7,540.9" stroke="#ff6d00" stroke-width="1.6"/>
</g>
<rect x="12" y="536" width="63" height="30" fill="#ffffff" opacity="0.55"/>
<text x="17.75" y="554.8" font-size="19" fill="#4a4a4a" font-weight="normal" textLength="50.49" lengthAdjust="spacingAndGlyphs"  stroke="#4a4a4a" stroke-width="0.2">MACD</text>
<g fill="#fff" stroke="#fff" stroke-width="5" stroke-linejoin="round"><path d="M23.9,588.8 H42.9 V610.3 H32.8 V597.4 H23.9 Z"/><circle cx="49.5" cy="592.6" r="4"/><path d="M56.4,588.8 H68.6 L60.6,610.3 H48.4 Z"/></g>
<text x="79.55" y="610.5" font-size="31" fill="#fff" font-weight="bold" textLength="180.56" lengthAdjust="spacingAndGlyphs" stroke="#fff" stroke-width="5" stroke-linejoin="round">TradingView</text>
<g fill="#131722"><path d="M23.9,588.8 H42.9 V610.3 H32.8 V597.4 H23.9 Z"/><circle cx="49.5" cy="592.6" r="4"/><path d="M56.4,588.8 H68.6 L60.6,610.3 H48.4 Z"/></g>
<text x="79.55" y="610.5" font-size="31" fill="#131722" font-weight="bold" textLength="180.56" lengthAdjust="spacingAndGlyphs" >TradingView</text>
<rect x="12" y="12" width="239" height="84" fill="#ffffff" opacity="0.55"/>
<g clip-path="url(#usclip)"><rect x="28" y="18" width="20" height="20" fill="#fff"/>
<rect x="28" y="18" width="20" height="4.7" fill="#f0443e"/><rect x="28" y="26.2" width="20" height="3.8" fill="#f0443e"/><rect x="28" y="32.9" width="20" height="4" fill="#f0443e"/>
<rect x="28" y="18" width="11" height="11.9" fill="#1e88e5"/>
<circle cx="33.4" cy="21.4" r="0.75" fill="#fff"/>
<circle cx="36.6" cy="21.4" r="0.75" fill="#fff"/>
<circle cx="33.4" cy="24.4" r="0.75" fill="#fff"/>
<circle cx="36.6" cy="24.4" r="0.75" fill="#fff"/>
</g>
<circle cx="28.05" cy="36.8" r="11.2" fill="#fff"/>
<circle cx="28.05" cy="36.8" r="9" fill="#1c5ec0"/>
<circle cx="28.05" cy="42.10" r="1.05" fill="#f2c531"/>
<circle cx="24.30" cy="40.55" r="1.05" fill="#f2c531"/>
<circle cx="22.75" cy="36.80" r="1.05" fill="#f2c531"/>
<circle cx="24.30" cy="33.05" r="1.05" fill="#f2c531"/>
<circle cx="28.05" cy="31.50" r="1.05" fill="#f2c531"/>
<circle cx="31.80" cy="33.05" r="1.05" fill="#f2c531"/>
<circle cx="33.35" cy="36.80" r="1.05" fill="#f2c531"/>
<circle cx="31.80" cy="40.55" r="1.05" fill="#f2c531"/>
<text x="51.78" y="40.6" font-size="23" fill="#4a4a4a" font-weight="normal" textLength="83.88" lengthAdjust="spacingAndGlyphs" >EURUSD</text>
<circle cx="145" cy="34" r="2" fill="#131722"/>
<text x="154.99" y="40.6" font-size="23" fill="#4a4a4a" font-weight="normal" textLength="24.92" lengthAdjust="spacingAndGlyphs" >1h</text>
<circle cx="188.7" cy="34" r="2" fill="#131722"/>
<text x="198.33" y="40.6" font-size="23" fill="#4a4a4a" font-weight="normal" textLength="58.06" lengthAdjust="spacingAndGlyphs" >FXCM</text>
<path d="M291.5,19 H308 V46 H291.5 a13.5,13.5 0 0 1 0,-27 Z" fill="#dcf2ee"/>
<path d="M308,19 H324.5 a13.5,13.5 0 0 1 0,27 H308 Z" fill="#f9c8da"/>
<circle cx="294" cy="31.8" r="6.1" fill="#109c83"/>
<g fill="#e01a5c"><path d="M314.2,31.0 C315.0,28.2 316.8,26.8 318.9,27.1 C320.7,27.4 322.4,28.5 323.9,28.5 C325.3,28.5 326.3,27.7 327.1,26.7 L327.6,27.3 C327.0,29.8 325.5,31.2 323.6,31.2 C321.8,31.2 320.2,29.9 318.6,29.8 C317.0,29.7 315.8,30.5 314.9,31.6 Z"/><path d="M314.2,31.0 C315.0,28.2 316.8,26.8 318.9,27.1 C320.7,27.4 322.4,28.5 323.9,28.5 C325.3,28.5 326.3,27.7 327.1,26.7 L327.6,27.3 C327.0,29.8 325.5,31.2 323.6,31.2 C321.8,31.2 320.2,29.9 318.6,29.8 C317.0,29.7 315.8,30.5 314.9,31.6 Z" transform="translate(0,6)"/></g>
<text x="361.74" y="38.8" font-size="19" fill="#4a4a4a" font-weight="normal" textLength="13.64" lengthAdjust="spacingAndGlyphs"  stroke="#4a4a4a" stroke-width="0.3">O</text>
<text x="376.89" y="38.8" font-size="19" fill="#ef5350" font-weight="normal" textLength="67.85" lengthAdjust="spacingAndGlyphs"  stroke="#ef5350" stroke-width="0.3">1.08936</text>
<text x="453.64" y="38.8" font-size="19" fill="#4a4a4a" font-weight="normal" textLength="13.78" lengthAdjust="spacingAndGlyphs"  stroke="#4a4a4a" stroke-width="0.3">H</text>
<text x="468.28" y="38.8" font-size="19" fill="#ef5350" font-weight="normal" textLength="68.37" lengthAdjust="spacingAndGlyphs"  stroke="#ef5350" stroke-width="0.3">1.08939</text>
<text x="545.77" y="38.8" font-size="19" fill="#4a4a4a" font-weight="normal" textLength="9.70" lengthAdjust="spacingAndGlyphs"  stroke="#4a4a4a" stroke-width="0.3">L</text>
<text x="557.39" y="38.8" font-size="19" fill="#ef5350" font-weight="normal" textLength="67.75" lengthAdjust="spacingAndGlyphs"  stroke="#ef5350" stroke-width="0.3">1.08859</text>
<text x="635.20" y="38.8" font-size="19" fill="#4a4a4a" font-weight="normal" textLength="10.18" lengthAdjust="spacingAndGlyphs"  stroke="#4a4a4a" stroke-width="0.3">C</text>
<text x="647.69" y="38.8" font-size="19" fill="#ef5350" font-weight="normal" textLength="67.98" lengthAdjust="spacingAndGlyphs"  stroke="#ef5350" stroke-width="0.3">1.08887</text>
<text x="725.70" y="38.8" font-size="19" fill="#ef5350" font-weight="normal" textLength="77.71" lengthAdjust="spacingAndGlyphs"  stroke="#ef5350" stroke-width="0.3">−0.00049</text>
<text x="810.68" y="38.8" font-size="19" fill="#ef5350" font-weight="normal" textLength="73.53" lengthAdjust="spacingAndGlyphs"  stroke="#ef5350" stroke-width="0.3">(−0.04%)</text>
<rect x="18.5" y="56.5" width="89" height="34.5" rx="5" fill="#fff" stroke="#f23645" stroke-width="1.1"/>
<text x="29.58" y="81.0" font-size="18" fill="#f23645" font-weight="normal" textLength="58.28" lengthAdjust="spacingAndGlyphs"  stroke="#f23645" stroke-width="0.2">1.0888</text>
<text x="87.55" y="78.1" font-size="16" fill="#f23645" font-weight="normal" textLength="9.06" lengthAdjust="spacingAndGlyphs"  stroke="#f23645" stroke-width="0.2">4</text>
<text x="120.02" y="79.8" font-size="16" fill="#131722" font-weight="normal" textLength="23.25" lengthAdjust="spacingAndGlyphs"  stroke="#131722" stroke-width="0.35">0.3</text>
<rect x="155.5" y="56.5" width="89" height="34.5" rx="5" fill="#fff" stroke="#2962ff" stroke-width="1.1"/>
<text x="166.68" y="81.0" font-size="18" fill="#2962ff" font-weight="normal" textLength="58.28" lengthAdjust="spacingAndGlyphs"  stroke="#2962ff" stroke-width="0.2">1.0888</text>
<text x="223.99" y="78.1" font-size="16" fill="#2962ff" font-weight="normal" textLength="10.74" lengthAdjust="spacingAndGlyphs"  stroke="#2962ff" stroke-width="0.2">7</text>
<rect x="1062" y="8" width="98" height="666" fill="#fff"/>
<rect x="1061" y="414" width="99" height="2" fill="#e0e3eb"/>
<rect x="1061" y="523" width="99" height="1.2" fill="#e0e3eb"/>
<text x="1072.55" y="72.1" font-size="17.5" fill="#4a4a4a" font-weight="normal" textLength="63.18" lengthAdjust="spacingAndGlyphs"  stroke="#4a4a4a" stroke-width="0.4">1.09500</text>
<text x="1072.55" y="168.1" font-size="17.5" fill="#4a4a4a" font-weight="normal" textLength="63.18" lengthAdjust="spacingAndGlyphs"  stroke="#4a4a4a" stroke-width="0.4">1.09000</text>
<text x="1072.55" y="264.1" font-size="17.5" fill="#4a4a4a" font-weight="normal" textLength="63.18" lengthAdjust="spacingAndGlyphs"  stroke="#4a4a4a" stroke-width="0.4">1.08500</text>
<text x="1072.55" y="360.1" font-size="17.5" fill="#4a4a4a" font-weight="normal" textLength="63.18" lengthAdjust="spacingAndGlyphs"  stroke="#4a4a4a" stroke-width="0.4">1.08000</text>
<path d="M1062,43.0 H1142 a3,3 0 0 1 3,3 V66.7 a3,3 0 0 1 -3,3 H1062 Z" fill="#004d40"/>
<text x="1072.92" y="63.0" font-size="18.3" fill="#fff" font-weight="bold" textLength="63.21" lengthAdjust="spacingAndGlyphs" >1.09551</text>
<path d="M1062,112.0 H1142 a3,3 0 0 1 3,3 V135.7 a3,3 0 0 1 -3,3 H1062 Z" fill="#e91e63"/>
<text x="1072.92" y="132.0" font-size="18.3" fill="#fff" font-weight="bold" textLength="63.46" lengthAdjust="spacingAndGlyphs" >1.09192</text>
<path d="M1062,200.1 H1142 a3,3 0 0 1 3,3 V223.8 a3,3 0 0 1 -3,3 H1062 Z" fill="#e91e63"/>
<text x="1072.92" y="220.1" font-size="18.3" fill="#fff" font-weight="bold" textLength="63.21" lengthAdjust="spacingAndGlyphs" >1.08731</text>
<path d="M1062,289.1 H1142 a3,3 0 0 1 3,3 V312.8 a3,3 0 0 1 -3,3 H1062 Z" fill="#009688"/>
<text x="1072.92" y="309.1" font-size="18.3" fill="#fff" font-weight="bold" textLength="63.46" lengthAdjust="spacingAndGlyphs" >1.08269</text>
<text x="1072.94" y="436.8" font-size="17.5" fill="#4a4a4a" font-weight="normal" textLength="44.13" lengthAdjust="spacingAndGlyphs"  stroke="#4a4a4a" stroke-width="0.4">80.00</text>
<text x="1073.33" y="501.6" font-size="17.5" fill="#4a4a4a" font-weight="normal" textLength="43.74" lengthAdjust="spacingAndGlyphs"  stroke="#4a4a4a" stroke-width="0.4">40.00</text>
<text x="1073.08" y="539.6" font-size="17.5" fill="#4a4a4a" font-weight="normal" textLength="62.75" lengthAdjust="spacingAndGlyphs"  stroke="#4a4a4a" stroke-width="0.4">0.00200</text>
<text x="1073.08" y="605.0" font-size="17.5" fill="#4a4a4a" font-weight="normal" textLength="62.75" lengthAdjust="spacingAndGlyphs"  stroke="#4a4a4a" stroke-width="0.4">0.00000</text>
<rect x="1062.2" y="8" width="97.8" height="50.3" fill="#fff"/>
<rect x="1067.5" y="14.8" width="86" height="36.6" rx="5" fill="#fff" stroke="#e0e3eb" stroke-width="1"/>
<text x="1071.44" y="38.6" font-size="17.3" fill="#131722" font-weight="normal" textLength="32.20" lengthAdjust="spacingAndGlyphs"  stroke="#131722" stroke-width="0.3">USD</text>
<path d="M1139.5,31.3 L1143.1,34.4 L1146.7,31.3" fill="none" stroke="#131722" stroke-width="2" stroke-linecap="butt" stroke-linejoin="miter"/>
<rect x="1061" y="8" width="1.2" height="406" fill="#4c4c4c"/>
<rect x="1061" y="416" width="1.2" height="107" fill="#4c4c4c"/>
<rect x="1061" y="524.2" width="1.2" height="150" fill="#4c4c4c"/>
<rect x="6" y="632" width="1154" height="1.2" fill="#4c4c4c"/>
<rect x="1061" y="632" width="1.2" height="42" fill="#4c4c4c"/>
<text x="100.93" y="659.5" font-size="17.5" fill="#4a4a4a" font-weight="normal" textLength="10.18" lengthAdjust="spacingAndGlyphs"  stroke="#4a4a4a" stroke-width="0.9">6</text>
<text x="257.14" y="659.5" font-size="17.5" fill="#4a4a4a" font-weight="normal" textLength="11.21" lengthAdjust="spacingAndGlyphs"  stroke="#4a4a4a" stroke-width="0.4">8</text>
<text x="368.32" y="659.5" font-size="17.5" fill="#4a4a4a" font-weight="normal" textLength="44.97" lengthAdjust="spacingAndGlyphs"  stroke="#4a4a4a" stroke-width="0.4">12:00</text>
<text x="523.66" y="659.5" font-size="17.5" fill="#4a4a4a" font-weight="normal" textLength="20.02" lengthAdjust="spacingAndGlyphs"  stroke="#4a4a4a" stroke-width="0.9">13</text>
<text x="681.30" y="659.5" font-size="17.5" fill="#4a4a4a" font-weight="normal" textLength="18.69" lengthAdjust="spacingAndGlyphs"  stroke="#4a4a4a" stroke-width="0.4">15</text>
<text x="797.13" y="659.5" font-size="17.5" fill="#4a4a4a" font-weight="normal" textLength="44.34" lengthAdjust="spacingAndGlyphs"  stroke="#4a4a4a" stroke-width="0.4">12:00</text>
<text x="952.16" y="659.5" font-size="17.5" fill="#4a4a4a" font-weight="normal" textLength="19.90" lengthAdjust="spacingAndGlyphs"  stroke="#4a4a4a" stroke-width="0.9">20</text>
<polygon points="1100.8,653.4 1105.6,644.6 1116.9,644.6 1121.7,653.4 1116.9,662.2 1105.6,662.2" fill="none" stroke="#131722" stroke-width="1.6" stroke-linejoin="round"/>
<circle cx="1111.25" cy="653.4" r="2.7" fill="none" stroke="#131722" stroke-width="1.5"/>
<rect x="1160" y="2" width="6" height="676" fill="#e0e3eb"/>
<rect x="1166" y="0" width="1" height="678" fill="#fdfdfd"/>
</g></svg></body></html>
